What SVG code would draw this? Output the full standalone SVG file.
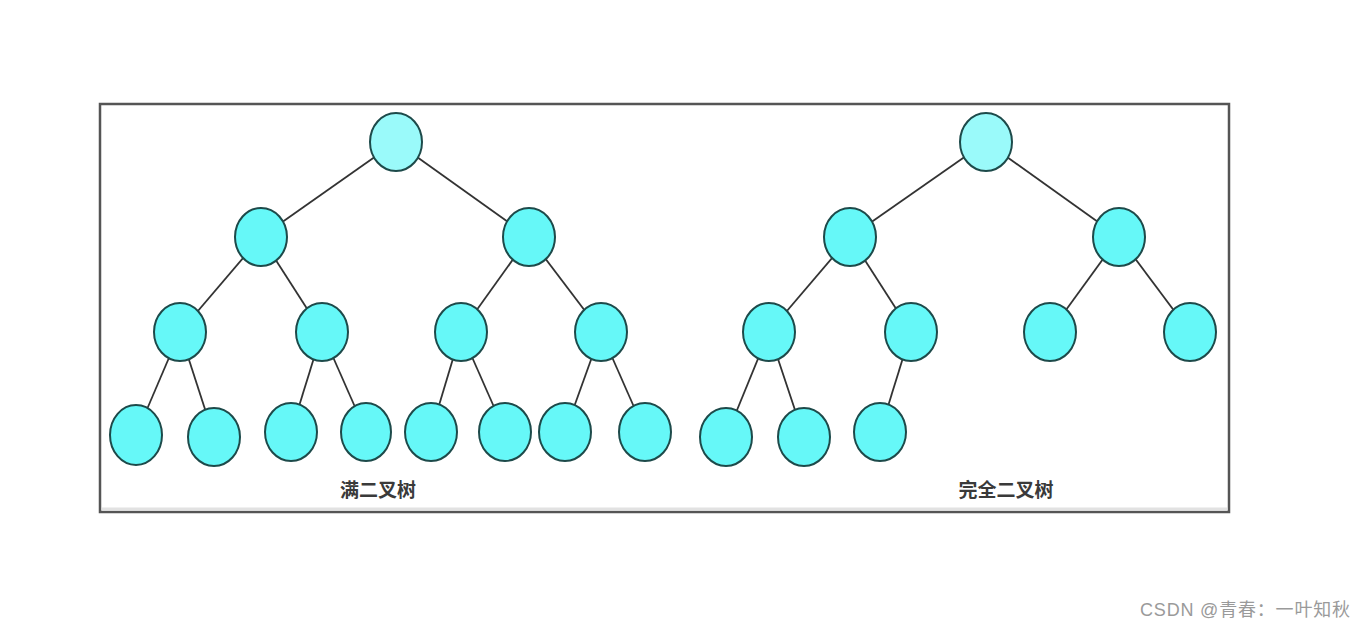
<svg xmlns="http://www.w3.org/2000/svg" width="1366" height="629" viewBox="0 0 1366 629">
<style>
.n{fill:#66f8f8;stroke:#1d4a4a;stroke-width:2}
.r{fill:#9afafa;stroke:#1d4a4a;stroke-width:2}
.e line{stroke:#333;stroke-width:1.8}
.lbl{font-family:"Noto Sans CJK SC","Liberation Sans",sans-serif;font-size:19px;font-weight:bold;fill:#3a3a3a;text-anchor:middle}
.wm{font-family:"Liberation Sans","Noto Sans CJK SC",sans-serif;font-size:18px;fill:#9a9a9a}
</style>
<rect width="1366" height="629" fill="#fff"/>
<rect x="100" y="104" width="1129" height="408" fill="#fff" stroke="#555" stroke-width="2.5"/>
<line x1="102" y1="509" x2="1227" y2="509" stroke="#e2e2e2" stroke-width="3"/>
<g class="e" id="edges">
<line x1="396" y1="142" x2="261" y2="237"/>
<line x1="396" y1="142" x2="529" y2="237"/>
<line x1="261" y1="237" x2="180" y2="332"/>
<line x1="261" y1="237" x2="322" y2="332"/>
<line x1="529" y1="237" x2="461" y2="332"/>
<line x1="529" y1="237" x2="601" y2="332"/>
<line x1="180" y1="332" x2="136" y2="435"/>
<line x1="180" y1="332" x2="214" y2="437"/>
<line x1="322" y1="332" x2="291" y2="432"/>
<line x1="322" y1="332" x2="366" y2="432"/>
<line x1="461" y1="332" x2="431" y2="432"/>
<line x1="461" y1="332" x2="505" y2="432"/>
<line x1="601" y1="332" x2="565" y2="432"/>
<line x1="601" y1="332" x2="645" y2="432"/>
<line x1="986" y1="142" x2="850" y2="237"/>
<line x1="986" y1="142" x2="1119" y2="237"/>
<line x1="850" y1="237" x2="769" y2="332"/>
<line x1="850" y1="237" x2="911" y2="332"/>
<line x1="1119" y1="237" x2="1050" y2="332"/>
<line x1="1119" y1="237" x2="1190" y2="332"/>
<line x1="769" y1="332" x2="726" y2="437"/>
<line x1="769" y1="332" x2="804" y2="437"/>
<line x1="911" y1="332" x2="880" y2="432"/>
</g>
<g id="full-tree">
<g id="f0"><ellipse class="r" cx="396" cy="142" rx="26" ry="29"/></g>
<g id="f1"><ellipse class="n" cx="261" cy="237" rx="26" ry="29"/></g>
<g id="f2"><ellipse class="n" cx="529" cy="237" rx="26" ry="29"/></g>
<g id="f3"><ellipse class="n" cx="180" cy="332" rx="26" ry="29"/></g>
<g id="f4"><ellipse class="n" cx="322" cy="332" rx="26" ry="29"/></g>
<g id="f5"><ellipse class="n" cx="461" cy="332" rx="26" ry="29"/></g>
<g id="f6"><ellipse class="n" cx="601" cy="332" rx="26" ry="29"/></g>
<g id="f7"><ellipse class="n" cx="136" cy="435" rx="26" ry="30"/></g>
<g id="f8"><ellipse class="n" cx="214" cy="437" rx="26" ry="29"/></g>
<g id="f9"><ellipse class="n" cx="291" cy="432" rx="26" ry="29"/></g>
<g id="f10"><ellipse class="n" cx="366" cy="432" rx="25" ry="29"/></g>
<g id="f11"><ellipse class="n" cx="431" cy="432" rx="26" ry="29"/></g>
<g id="f12"><ellipse class="n" cx="505" cy="432" rx="26" ry="29"/></g>
<g id="f13"><ellipse class="n" cx="565" cy="432" rx="26" ry="29"/></g>
<g id="f14"><ellipse class="n" cx="645" cy="432" rx="26" ry="29"/></g>
</g>
<g id="complete-tree">
<g id="c0"><ellipse class="r" cx="986" cy="142" rx="26" ry="29"/></g>
<g id="c1"><ellipse class="n" cx="850" cy="237" rx="26" ry="29"/></g>
<g id="c2"><ellipse class="n" cx="1119" cy="237" rx="26" ry="29"/></g>
<g id="c3"><ellipse class="n" cx="769" cy="332" rx="26" ry="29"/></g>
<g id="c4"><ellipse class="n" cx="911" cy="332" rx="26" ry="29"/></g>
<g id="c5"><ellipse class="n" cx="1050" cy="332" rx="26" ry="29"/></g>
<g id="c6"><ellipse class="n" cx="1190" cy="332" rx="26" ry="29"/></g>
<g id="c7"><ellipse class="n" cx="726" cy="437" rx="26" ry="29"/></g>
<g id="c8"><ellipse class="n" cx="804" cy="437" rx="26" ry="29"/></g>
<g id="c9"><ellipse class="n" cx="880" cy="432" rx="26" ry="29"/></g>
</g>
<text class="lbl" x="378" y="497">满二叉树</text>
<text class="lbl" x="1006" y="497">完全二叉树</text>
<text class="wm" x="1140" y="616" textLength="210" lengthAdjust="spacing">CSDN @青春：一叶知秋</text>
</svg>
